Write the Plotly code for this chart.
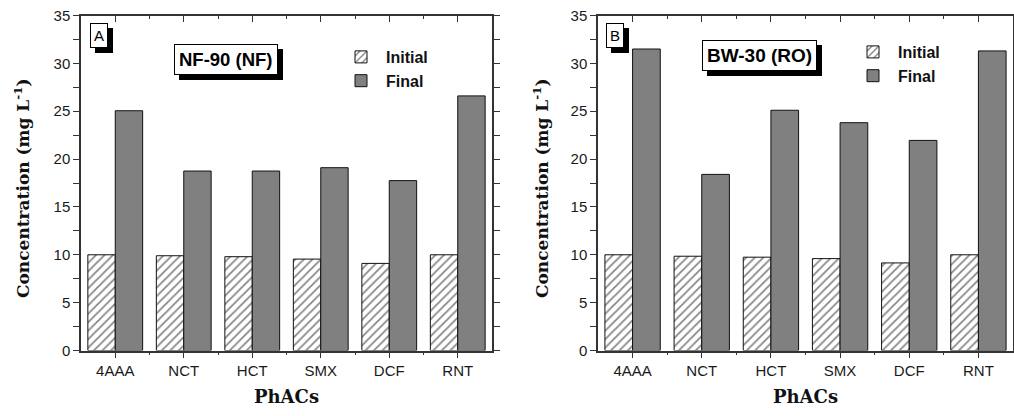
import plotly.graph_objects as go

categories = ["4AAA", "NCT", "HCT", "SMX", "DCF", "RNT"]
nf_initial = [10.0, 9.9, 9.8, 9.55, 9.1, 10.0]
nf_final = [25.05, 18.75, 18.75, 19.1, 17.75, 26.6]
ro_initial = [10.0, 9.85, 9.75, 9.6, 9.15, 10.0]
ro_final = [31.5, 18.4, 25.1, 23.8, 21.95, 31.3]
y_ticks = [0, 5, 10, 15, 20, 25, 30, 35]

W, H = 1014, 416
xpos = list(range(len(categories)))

def px(x):
    return x / W

def py(y):
    return 1 - y / H

AX = "#333333"
hatch = dict(shape="/", fgcolor="#111111", bgcolor="white", size=6, solidity=0.3)

fig = go.Figure()
for i, (ini, fin) in enumerate([(nf_initial, nf_final), (ro_initial, ro_final)]):
    xa = "x" if i == 0 else "x2"
    ya = "y" if i == 0 else "y2"
    lg = "legend" if i == 0 else "legend2"
    fig.add_trace(go.Bar(x=xpos, y=ini, name="<b>Initial</b>", xaxis=xa, yaxis=ya, legend=lg,
                         marker=dict(color="white", pattern=hatch, line=dict(color="#111111", width=1))))
    fig.add_trace(go.Bar(x=xpos, y=fin, name="<b>Final</b>", xaxis=xa, yaxis=ya, legend=lg,
                         marker=dict(color="#808080", line=dict(color="#111111", width=1))))

doms = [[px(81), px(492)], [px(598), px(1013)]]
ydom = [py(350.5), py(15.5)]

common_x = dict(range=[-0.5, 5.5], tickmode="array", tickvals=xpos, ticktext=categories,
                ticks="outside", ticklen=6, tickwidth=1.2, tickcolor=AX, automargin=False,
                showline=True, linecolor=AX, linewidth=1.5, mirror=True, showgrid=False, zeroline=False,
                tickfont=dict(family="Liberation Sans", size=15, color="#1a1a1a"),
                minor=dict(tickmode="array", tickvals=[0.5, 1.5, 2.5, 3.5, 4.5], ticks="outside",
                           ticklen=3, tickcolor=AX, tickwidth=1),
                title=dict(text="<b>PhACs</b>", font=dict(family="DejaVu Serif", size=18, color="#111111"),
                           standoff=12))
common_y = dict(range=[0, 35], tickmode="array", tickvals=y_ticks, automargin=False,
                ticks="outside", ticklen=6, tickwidth=1.2, tickcolor=AX,
                showline=True, linecolor=AX, linewidth=1.5, mirror="allticks", showgrid=False, zeroline=False,
                tickfont=dict(family="Liberation Sans", size=15, color="#1a1a1a"),
                minor=dict(tickmode="array", tickvals=[2.5, 7.5, 12.5, 17.5, 22.5, 27.5, 32.5],
                           ticks="outside", ticklen=3, tickcolor=AX, tickwidth=1))
top_x = dict(range=[-0.5, 5.5], tickmode="array", tickvals=xpos, showticklabels=False,
             ticks="inside", ticklen=6, tickwidth=1.2, tickcolor=AX, side="top", automargin=False,
             showline=False, showgrid=False, zeroline=False,
             minor=dict(tickmode="array", tickvals=[0.5, 1.5, 2.5, 3.5, 4.5], ticks="inside",
                        ticklen=3, tickcolor=AX, tickwidth=1))

fig.update_layout(
    width=W, height=H, margin=dict(l=0, r=0, t=0, b=0, autoexpand=False),
    paper_bgcolor="white", plot_bgcolor="white",
    barmode="group", bargap=0.2, bargroupgap=0,
    xaxis=dict(domain=doms[0], anchor="y", **common_x),
    yaxis=dict(domain=ydom, anchor="x", **common_y),
    xaxis2=dict(domain=doms[1], anchor="y2", **common_x),
    yaxis2=dict(domain=ydom, anchor="x2", **common_y),
    xaxis3=dict(overlaying="x", anchor="y", **top_x),
    xaxis4=dict(overlaying="x2", anchor="y2", **top_x),
    legend=dict(x=px(336), y=py(40), xanchor="left", yanchor="top", bgcolor="rgba(0,0,0,0)",
                font=dict(family="Liberation Sans", size=16, color="#111111"), tracegroupgap=0,
                itemwidth=40, traceorder="normal"),
    legend2=dict(x=px(848), y=py(35), xanchor="left", yanchor="top", bgcolor="rgba(0,0,0,0)",
                 font=dict(family="Liberation Sans", size=16, color="#111111"), tracegroupgap=0,
                 itemwidth=40, traceorder="normal"),
    showlegend=True,
)

# invisible traces so top axes render
fig.add_trace(go.Scatter(x=[0], y=[0], xaxis="x3", yaxis="y", mode="markers", marker=dict(opacity=0),
                         showlegend=False, hoverinfo="skip"))
fig.add_trace(go.Scatter(x=[0], y=[0], xaxis="x4", yaxis="y2", mode="markers", marker=dict(opacity=0),
                         showlegend=False, hoverinfo="skip"))

def boxed(text, cx, cy, size, bold, pad):
    t = f"<b>{text}</b>" if bold else text
    fig.add_annotation(x=px(cx), y=py(cy), xref="paper", yref="paper", text=t, showarrow=False,
                       xanchor="center", yanchor="middle",
                       font=dict(family="Liberation Sans", size=size, color="black"),
                       bgcolor="black", bordercolor="black", borderwidth=1, borderpad=pad,
                       xshift=5, yshift=-5)
    fig.add_annotation(x=px(cx), y=py(cy), xref="paper", yref="paper", text=t, showarrow=False,
                       xanchor="center", yanchor="middle",
                       font=dict(family="Liberation Sans", size=size, color="black"),
                       bgcolor="white", bordercolor="black", borderwidth=1, borderpad=pad)

boxed("A", 99, 35, 15, False, 3)
boxed("NF-90 (NF)", 226, 59.5, 18.5, True, 4)
boxed("B", 615, 35, 15, False, 3)
boxed("BW-30 (RO)", 759, 55.5, 19, True, 4)

for cx in [22, 541]:
    fig.add_annotation(x=px(cx), y=py(188), xref="paper", yref="paper",
                       xanchor="center", yanchor="middle",
                       text="<b>Concentration (mg L<sup>-1</sup>)</b>", showarrow=False, textangle=-90,
                       font=dict(family="DejaVu Serif", size=17, color="#111111"))

fig.write_html("out.html", config={"displayModeBar": False},
               post_script="document.body.style.margin='0px';document.body.style.overflow='hidden';")
